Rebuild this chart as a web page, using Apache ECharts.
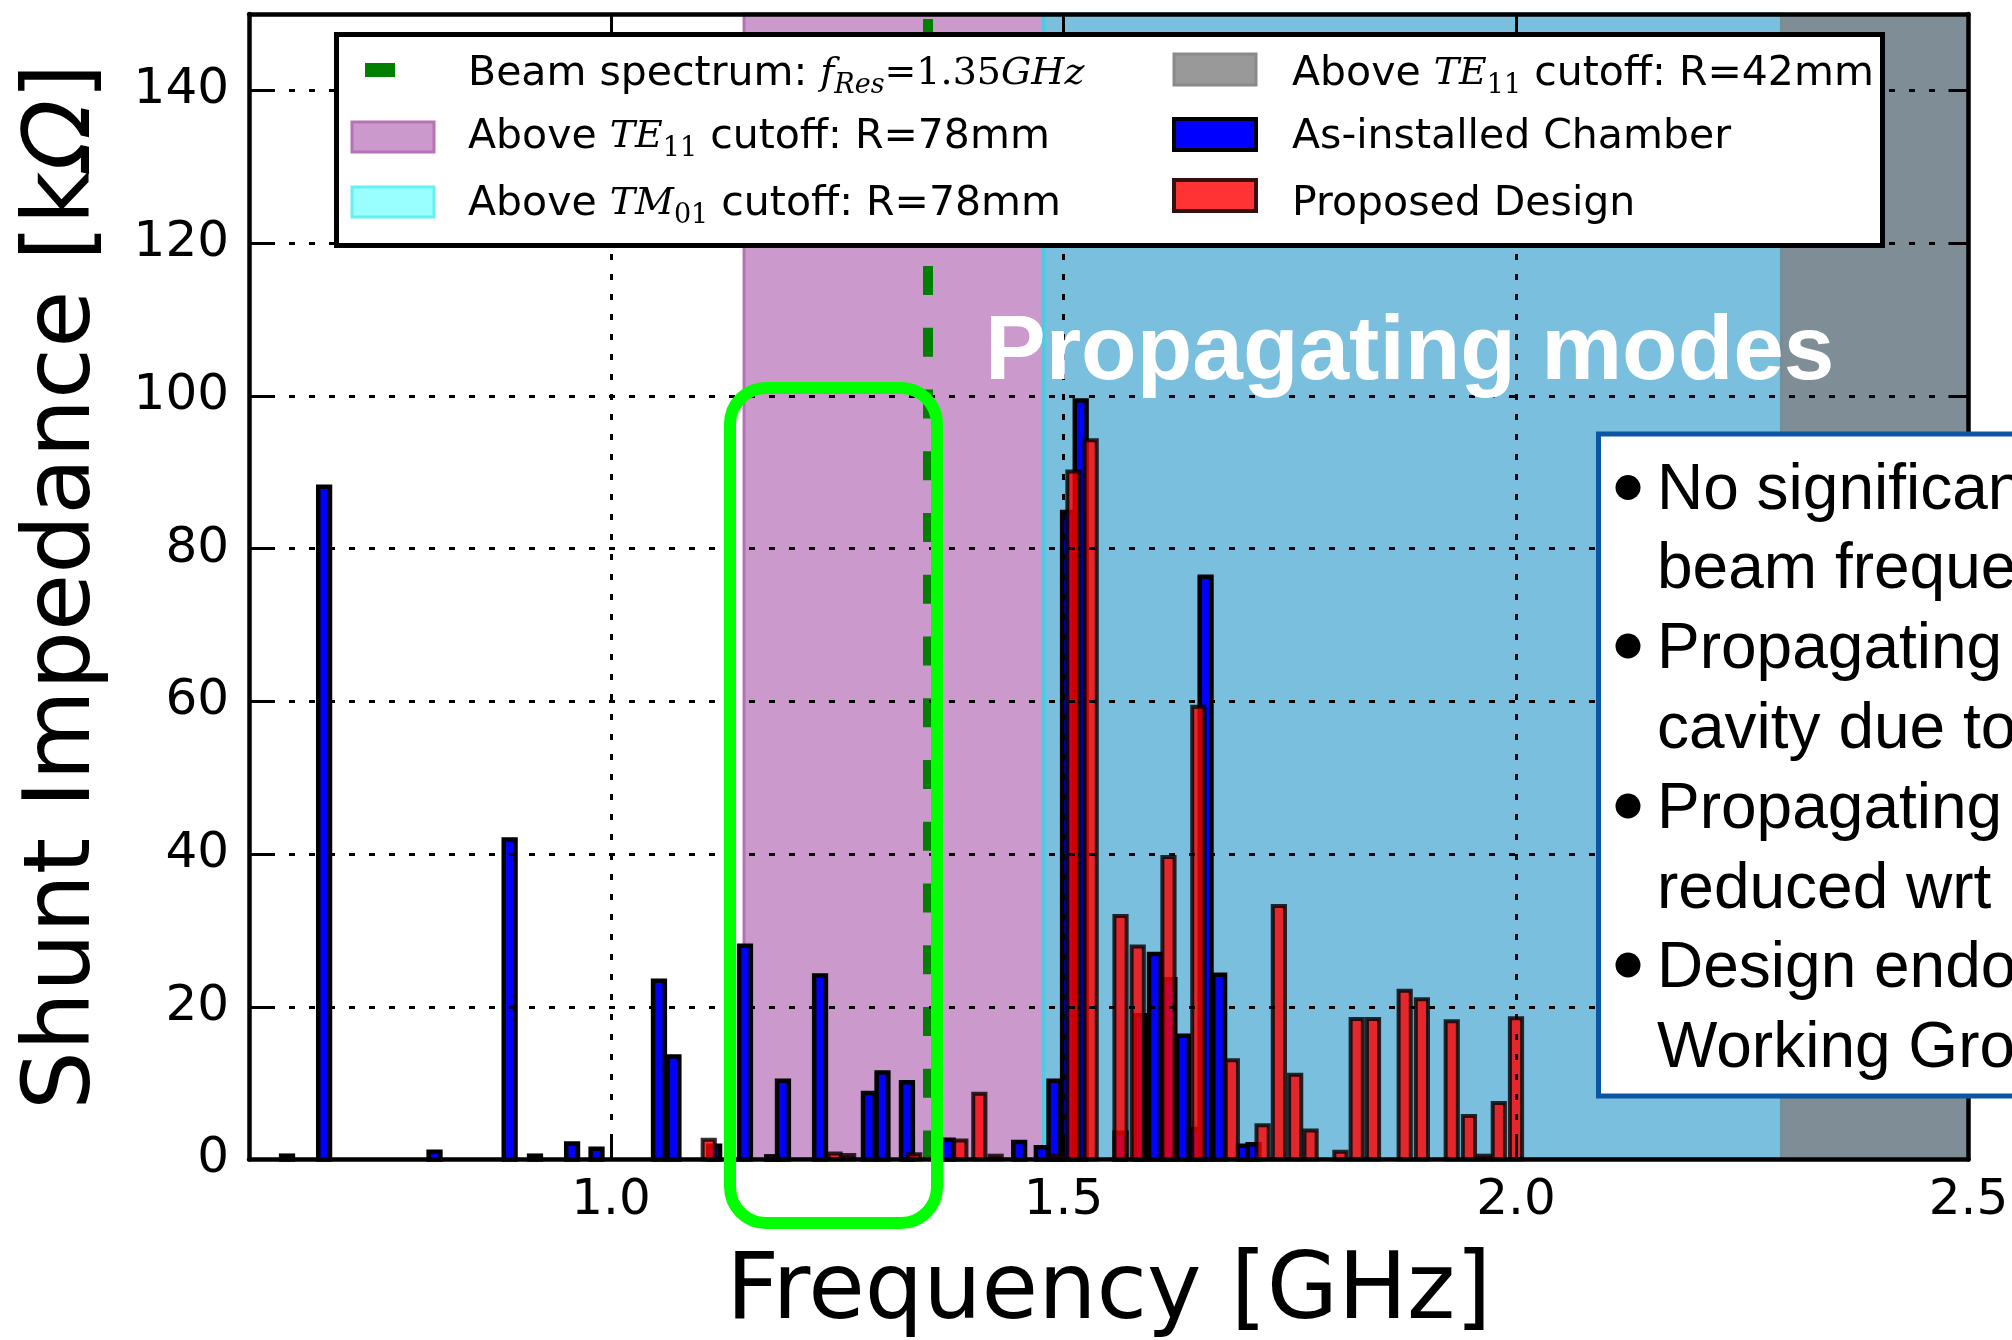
<!DOCTYPE html>
<html><head><meta charset="utf-8">
<script src="https://cdn.jsdelivr.net/npm/echarts@6/dist/echarts.min.js"></script>
<style>html,body{margin:0;padding:0;background:#fff;overflow:hidden}#c{width:2012px;height:1340px}</style>
</head><body><div id="c"></div>
<script>
// ---------------- data ----------------
const blueFreq = [0.642, 0.683, 0.805, 0.888, 0.916, 0.957, 0.984, 1.053, 1.069, 1.114, 1.148, 1.178, 1.190, 1.231, 1.285, 1.300, 1.327, 1.372, 1.451, 1.476, 1.490, 1.505, 1.519, 1.563, 1.585, 1.601, 1.617, 1.632, 1.645, 1.657, 1.672, 1.699, 1.710];
const blueVals = [0.5, 88.1, 1.0, 41.9, 0.5, 2.1, 1.4, 23.4, 13.5, 1.8, 28.0, 0.4, 10.3, 24.1, 8.7, 11.4, 10.1, 2.6, 2.3, 1.6, 10.3, 84.8, 99.4, 3.5, 18.9, 26.9, 23.6, 16.2, 4.0, 76.3, 24.2, 1.8, 2.0];
const redFreq = [1.108, 1.178, 1.247, 1.262, 1.335, 1.386, 1.407, 1.425, 1.492, 1.511, 1.530, 1.563, 1.582, 1.616, 1.649, 1.686, 1.720, 1.738, 1.756, 1.773, 1.806, 1.824, 1.842, 1.877, 1.896, 1.929, 1.948, 1.965, 1.981, 2.000];
const redVals = [2.6, 0.4, 0.8, 0.6, 0.7, 2.5, 8.6, 0.5, 0.5, 90.1, 94.2, 31.9, 27.9, 39.6, 59.3, 13.0, 4.5, 33.2, 11.1, 3.8, 1.0, 18.4, 18.4, 22.1, 21.0, 18.1, 5.7, 0.5, 7.4, 18.5];
const xTicks = [1.0, 1.5, 2.0, 2.5];
const xRange = [0.6, 2.5];
const yRange = [0, 150];
const yStep = 20;
const spanTE11_78 = [1.147, 1.478];
const spanTM01_78 = [1.478, 2.293];
const spanTE11_42 = [2.293, 2.5];
const beamFreq = 1.35;
const xTitle = 'Frequency [GHz]';
const yTitle = 'Shunt Impedance [k{o|Ω}]';
const legendCol1 = [
  'Beam spectrum: {m|f}{s|Res}{r|=1.35}{m|GHz}',
  'Above {m|TE}{d|11} cutoff: R=78mm',
  'Above {m|TM}{d|01} cutoff: R=78mm'
];
const legendCol2 = ['Above {m|TE}{d|11} cutoff: R=42mm', 'As-installed Chamber', 'Proposed Design'];
const bannerText = 'Propagating modes';
const noteLines = ['No significant', 'beam frequency', 'Propagating', 'cavity due to', 'Propagating', 'reduced wrt', 'Design endorsed', 'Working Group'];

// ---------------- helpers ----------------
function barRenderer(w, fill, stroke, lw) {
  return function (params, api) {
    const x = api.value(0), v = api.value(1);
    const a = api.coord([x - w / 2, v]);
    const b = api.coord([x + w / 2, 0]);
    return { type: 'rect', shape: { x: a[0], y: a[1], width: b[0] - a[0], height: b[1] - a[1] },
             style: { fill: fill, stroke: stroke, lineWidth: lw } };
  };
}
const blueData = blueFreq.map((f, i) => [f, blueVals[i]]);
const redData = redFreq.map((f, i) => [f, redVals[i]]);

const gridLine = { show: true, lineStyle: { color: '#000', width: 3, type: [6, 14] } };
const spine = { show: true, onZero: false, lineStyle: { color: '#000', width: 4.5 } };
const tickIn = { show: true, inside: true, length: 20, lineStyle: { color: '#000', width: 3 } };
const FONT = 'DejaVu Sans';

const mathRich = {
  m: { fontFamily: 'DejaVu Serif', fontStyle: 'italic', fontSize: 38, lineHeight: 50 },
  r: { fontFamily: 'DejaVu Serif', fontSize: 38, lineHeight: 50 },
  s: { fontFamily: 'DejaVu Serif', fontStyle: 'italic', fontSize: 27, lineHeight: 22, verticalAlign: 'bottom' },
  d: { fontFamily: 'DejaVu Serif', fontSize: 27, lineHeight: 22, verticalAlign: 'bottom' }
};

const Z = 100;
const rowY = [74, 137, 204];
const graphics = [];
// legend frame
graphics.push({ type: 'rect', z: Z, shape: { x: 336.5, y: 34.5, width: 1546, height: 211 },
  style: { fill: '#fff', stroke: '#000', lineWidth: 5 } });
// legend handles
graphics.push({ type: 'rect', z: Z + 1, shape: { x: 365, y: 63, width: 30, height: 14 }, style: { fill: '#008000' } });
graphics.push({ type: 'rect', z: Z + 1, shape: { x: 352, y: 122, width: 82, height: 30 }, style: { fill: '#CC99CC', stroke: '#B573B5', lineWidth: 3 } });
graphics.push({ type: 'rect', z: Z + 1, shape: { x: 352, y: 187, width: 82, height: 30 }, style: { fill: '#99FFFF', stroke: '#66F0F0', lineWidth: 3 } });
graphics.push({ type: 'rect', z: Z + 1, shape: { x: 1174, y: 54, width: 82, height: 31 }, style: { fill: '#999999', stroke: '#8A8A8A', lineWidth: 3 } });
graphics.push({ type: 'rect', z: Z + 1, shape: { x: 1174, y: 119, width: 82, height: 31 }, style: { fill: '#0000FF', stroke: '#000', lineWidth: 4 } });
graphics.push({ type: 'rect', z: Z + 1, shape: { x: 1174, y: 180, width: 82, height: 31 }, style: { fill: '#FF3333', stroke: '#331111', lineWidth: 4 } });
legendCol1.forEach((t, i) => graphics.push({ type: 'text', z: Z + 1, x: 468, y: rowY[i],
  style: { text: t, fill: '#000', fontFamily: FONT, fontSize: 41, lineHeight: 50, verticalAlign: 'middle', align: 'left', rich: mathRich } }));
legendCol2.forEach((t, i) => graphics.push({ type: 'text', z: Z + 1, x: 1292, y: rowY[i],
  style: { text: t, fill: '#000', fontFamily: FONT, fontSize: 41, lineHeight: 50, verticalAlign: 'middle', align: 'left', rich: mathRich } }));
// banner
graphics.push({ type: 'text', z: Z, x: 985, y: 354,
  style: { text: bannerText, fill: '#fff', fontFamily: 'Liberation Sans', fontWeight: 'bold', fontSize: 91, verticalAlign: 'middle', align: 'left' } });
// note box
graphics.push({ type: 'rect', z: Z, shape: { x: 1598.5, y: 434, width: 600, height: 662 },
  style: { fill: '#fff', stroke: '#0B56A4', lineWidth: 5 } });
const noteBase = [511.5, 590, 670, 750, 830, 910, 989, 1069];
noteLines.forEach((t, i) => {
  graphics.push({ type: 'text', z: Z + 1, x: 1657, y: noteBase[i] - 20,
    style: { text: t, fill: '#000', fontFamily: 'Liberation Sans', fontSize: 64, verticalAlign: 'middle', align: 'left' } });
  if (i % 2 === 0) graphics.push({ type: 'circle', z: Z + 1, shape: { cx: 1628, cy: noteBase[i] - 24, r: 12.5 }, style: { fill: '#000' } });
});
// green highlight box
graphics.push({ type: 'rect', z: Z + 5, shape: { x: 730, y: 388, width: 207, height: 835, r: 36 },
  style: { fill: 'none', stroke: '#00FF00', lineWidth: 12 } });

const chart = echarts.init(document.getElementById('c'), null, { renderer: 'canvas' });
chart.setOption({
  animation: false,
  backgroundColor: '#fff',
  grid: { left: 249, right: 43.5, top: 14, bottom: 180.5, containLabel: false, outerBoundsMode: 'none' },
  xAxis: [
    { type: 'value', min: xRange[0], max: xRange[1], position: 'bottom', z: 10,
      axisLine: spine, axisTick: Object.assign({ customValues: xTicks }, tickIn),
      axisLabel: { customValues: xTicks, formatter: v => v.toFixed(1), fontSize: 50, fontFamily: FONT, color: '#000', margin: 17 },
      splitLine: { show: false },
      name: xTitle, nameLocation: 'middle', nameGap: 89,
      nameTextStyle: { fontSize: 92, fontFamily: FONT, color: '#000' } },
    { type: 'value', min: xRange[0], max: xRange[1], position: 'top', z: 10,
      axisLine: spine, axisTick: Object.assign({ customValues: xTicks }, tickIn),
      axisLabel: { show: false, customValues: xTicks }, splitLine: gridLine }
  ],
  yAxis: [
    { type: 'value', min: yRange[0], max: yRange[1], interval: yStep, position: 'left', z: 10,
      axisLine: spine, axisTick: tickIn,
      axisLabel: { fontSize: 50, fontFamily: FONT, color: '#000', margin: 20, showMaxLabel: false },
      splitLine: { show: false },
      name: yTitle, nameLocation: 'middle', nameGap: 138,
      nameTextStyle: { fontSize: 93, fontFamily: FONT, color: '#000',
        rich: { o: { fontSize: 93, fontFamily: FONT, fontStyle: 'italic', color: '#000' } } } },
    { type: 'value', min: yRange[0], max: yRange[1], interval: yStep, position: 'right', z: 10,
      axisLine: spine, axisTick: tickIn, axisLabel: { show: false }, splitLine: gridLine }
  ],
  series: [
    { type: 'custom', name: 'As-installed Chamber', renderItem: barRenderer(0.013, '#0000FF', '#000', 4.5),
      data: blueData, encode: { x: 0, y: 1 }, z: 2, silent: true,
      markArea: { silent: true, label: { show: false },
        data: [
          [{ xAxis: spanTE11_78[0], itemStyle: { color: '#CC99CC', opacity: 1, borderColor: '#B573B5', borderWidth: 3 } }, { xAxis: spanTE11_78[1] }],
          [{ xAxis: spanTM01_78[0], itemStyle: { color: '#7BBFDF', opacity: 1, borderColor: '#45CFE2', borderWidth: 3 } }, { xAxis: spanTM01_78[1] }],
          [{ xAxis: spanTE11_42[0], itemStyle: { color: '#7F8E96', opacity: 1, borderColor: '#7A8890', borderWidth: 2 } }, { xAxis: spanTE11_42[1] }]
        ] },
      markLine: { silent: true, symbol: ['none', 'none'], label: { show: false },
        lineStyle: { color: '#007F00', width: 10, type: [29, 32.75], opacity: 1 },
        data: [{ xAxis: beamFreq }] } },
    { type: 'custom', name: 'Proposed Design', renderItem: barRenderer(0.0135, 'rgba(255,0,0,0.8)', 'rgba(0,0,0,0.8)', 4),
      data: redData, encode: { x: 0, y: 1 }, z: 3, silent: true }
  ],
  graphic: { elements: graphics }
});
</script></body></html>
